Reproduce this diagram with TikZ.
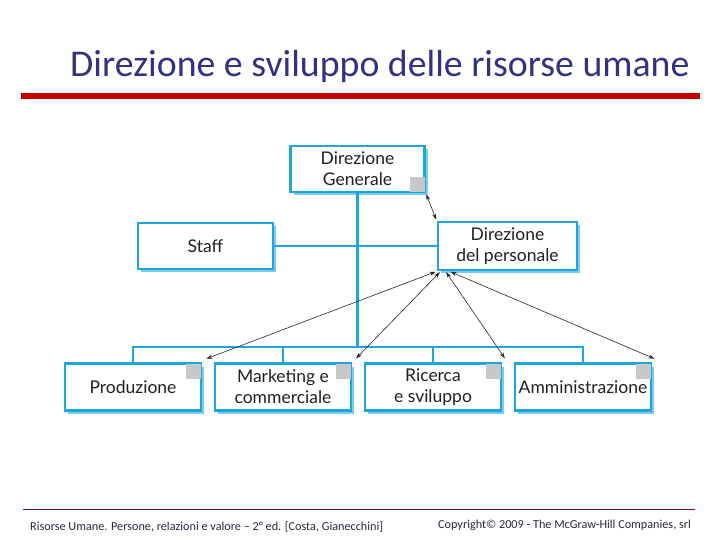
\documentclass[tikz,border=0pt]{standalone}
\usepackage{xcolor}
\usepackage{fontspec}
\setmainfont{Carlito}
\newfontfamily\boxfont{Lato}
\usepackage{tikz}
\usetikzlibrary{positioning,arrows.meta,shadows}

\definecolor{boxblue}{RGB}{27,166,223}
\definecolor{shadowblue}{RGB}{125,203,236}
\definecolor{squaregray}{RGB}{200,200,200}
\definecolor{titleblue}{RGB}{49,51,128}
\definecolor{titlered}{RGB}{200,0,0}
\definecolor{footred}{RGB}{120,20,30}
\definecolor{boxtext}{RGB}{35,31,32}
\definecolor{foottext}{RGB}{40,40,60}

\begin{document}
\begin{tikzpicture}[x=1pt,y=-1pt,>=Stealth,
  unit/.style={draw=boxblue,line width=2.8pt,fill=white,rectangle,inner sep=0pt,
    minimum width=136pt,minimum height=47pt,align=center,text=boxtext,
    font=\boxfont\fontsize{17.5}{21}\selectfont,
    drop shadow={shadow xshift=3pt,shadow yshift=-3pt,fill=shadowblue,opacity=1}},
  link/.style={draw=boxblue,line width=2.5pt},
  rel/.style={<->,>={Stealth[length=6pt,width=4pt]},line width=0.6pt,draw=black!85,shorten <=1pt,shorten >=1pt},
  tag/.style={fill=squaregray}]
  \useasboundingbox[fill=white] (0,0) rectangle (720,540);

  \node[anchor=base west,inner sep=0pt,text=titleblue,font=\fontsize{37.8}{44}\selectfont] (title) at (70,77) {Direzione e sviluppo delle risorse umane};
  \fill[titlered] (21,93) rectangle (700,99);

  \node[unit,minimum width=134pt,minimum height=46pt] (dg) at (357.5,169) {Direzione\\Generale};
  \node[unit,minimum width=135pt,minimum height=46pt] (staff) at (205.5,246) {Staff};
  \node[unit,minimum width=139pt,minimum height=48pt] (dp) at (507.5,246) {Direzione\\del personale};
  \node[unit] (prod) at (133,387) {Produzione};
  \node[unit] (mark) at (283,387) {Marketing e\\commerciale};
  \node[unit] (ric) at (433,387) {Ricerca\\e sviluppo};
  \node[unit] (amm) at (583,387) {Amministrazione};
  \coordinate (hub) at (357.5,347);

  \fill[tag] ([shift={(-1.4,-1.4)}]dg.south east) rectangle ++(-15,-15);
  \foreach \b in {prod,mark,ric,amm}
    \fill[tag] ([shift={(-1.4,1.4)}]\b.north east) rectangle ++(-15,15);

  \draw[link] (dg.south) -- (hub);
  \draw[link] (staff.east) -- (dp.west);
  \draw[link] (prod.north) |- (hub) -| (amm.north);
  \draw[link] (mark.north) -- (mark.north |- hub);
  \draw[link] (ric.north) -- (ric.north |- hub);

  \draw[rel] (dg.south east) -- (dp.north west);
  \foreach \b/\s in {prod/0,mark/4,ric/9,amm/13}
    \draw[rel] ([xshift=\s pt]dp.south west) -- ([shift={(3,-3)}]\b.north east);

  \draw[footred,line width=0.8pt] (23,509) -- (695,509);
  \node[anchor=base west,inner sep=0pt,text=foottext,font=\fontsize{12.2}{14}\selectfont] (src) at (30,530) {Risorse Umane. Persone, relazioni e valore – 2° ed. [Costa, Gianecchini]};
  \node[anchor=base west,inner sep=0pt,text=foottext,font=\fontsize{12.2}{14}\selectfont] (copy) at (438,528) {Copyright© 2009 - The McGraw-Hill Companies, srl};
\end{tikzpicture}
\end{document}
